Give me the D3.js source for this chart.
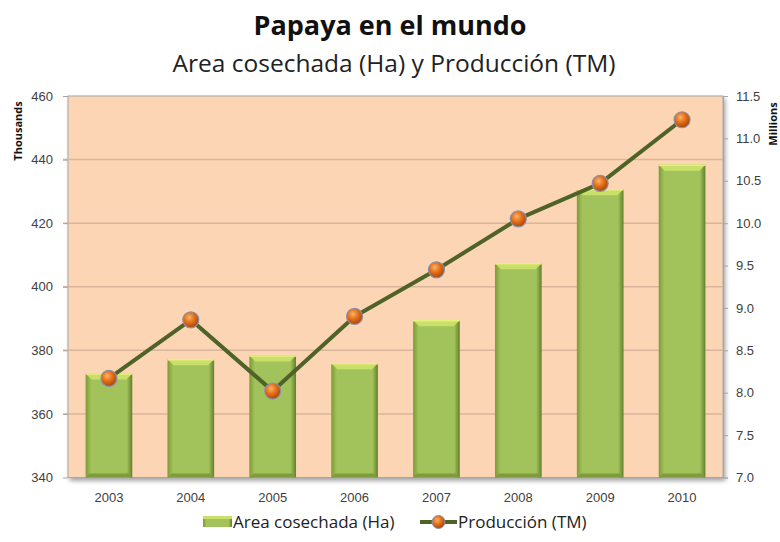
<!DOCTYPE html>
<html>
<head>
<meta charset="utf-8">
<script src="https://cdn.jsdelivr.net/npm/d3@7"></script>
<style>
  body { margin: 0; background: #fff; }
  svg { font-family: "Open Sans", "Noto Sans", sans-serif; }
  .tick text { fill: #404040; font-size: 13px; }
</style>
</head>
<body>
<svg id="chart" width="780" height="542"></svg>
<script>
// data
var years = ['2003','2004','2005','2006','2007','2008','2009','2010'];
var area = [372.7, 377.2, 378.4, 375.9, 389.5, 407.4, 430.7, 438.4];   // thousands Ha
var produccion = [8.17, 8.86, 8.02, 8.90, 9.45, 10.05, 10.47, 11.22]; // millions TM
var leftTicks = [340, 360, 380, 400, 420, 440, 460];
var rightTicks = [7.0, 7.5, 8.0, 8.5, 9.0, 9.5, 10.0, 10.5, 11.0, 11.5];

var svg = d3.select('#chart');
var m = {left: 68, top: 96, right: 723, bottom: 477.5};
var W = m.right - m.left, H = m.bottom - m.top;

var defs = svg.append('defs');
var bg = defs.append('linearGradient').attr('id', 'barg');
bg.append('stop').attr('offset', '0%').attr('stop-color', '#7d9b35');
bg.append('stop').attr('offset', '12%').attr('stop-color', '#a2c35c');
bg.append('stop').attr('offset', '88%').attr('stop-color', '#a2c35c');
bg.append('stop').attr('offset', '100%').attr('stop-color', '#62802a');
var rg = defs.append('radialGradient').attr('id', 'dot').attr('cx', '40%').attr('cy', '35%').attr('r', '65%');
rg.append('stop').attr('offset', '0%').attr('stop-color', '#fbb36a');
rg.append('stop').attr('offset', '50%').attr('stop-color', '#e56f17');
rg.append('stop').attr('offset', '100%').attr('stop-color', '#a9470a');
var sh = defs.append('filter').attr('id', 'shadow').attr('x', '-5%').attr('y', '-5%').attr('width', '110%').attr('height', '110%');
sh.append('feDropShadow').attr('dx', 2).attr('dy', 3).attr('stdDeviation', 2).attr('flood-color', '#000').attr('flood-opacity', 0.35);

// titles
svg.append('text').attr('x', 390).attr('y', 35).attr('text-anchor', 'middle')
  .style('font-size', '27px').style('font-weight', 'bold').style('fill', '#111').text('Papaya en el mundo');
svg.append('text').attr('x', 394).attr('y', 72).attr('text-anchor', 'middle')
  .style('font-size', '24.5px').style('fill', '#222').text('Area cosechada (Ha) y Producción (TM)');

var x = d3.scaleBand().domain(years).range([m.left, m.right]).paddingInner(0.43).paddingOuter(0.215);
var y = d3.scaleLinear().domain([340, 460]).range([m.bottom, m.top]);
var y2 = d3.scaleLinear().domain([7, 11.5]).range([m.bottom, m.top]);

// plot area
svg.append('rect').attr('x', m.left).attr('y', m.top).attr('width', W).attr('height', H)
  .attr('fill', '#fcd5b5').attr('stroke', '#a6a6a6').attr('stroke-width', 1).attr('filter', 'url(#shadow)');

svg.append('g').selectAll('line').data(leftTicks.slice(1, -1)).enter().append('line')
  .attr('x1', m.left - 5).attr('x2', m.right).attr('y1', function(d){ return y(d); }).attr('y2', function(d){ return y(d); })
  .attr('stroke', '#d9b59b').attr('stroke-width', 1.5);

// axes
var gl = svg.append('g').attr('transform', 'translate(' + m.left + ',0)')
  .call(d3.axisLeft(y).tickValues(leftTicks).tickSize(5).tickPadding(10));
gl.select('.domain').remove();
gl.selectAll('.tick line').attr('stroke', '#a6a6a6');

var gr = svg.append('g').attr('transform', 'translate(' + m.right + ',0)')
  .call(d3.axisRight(y2).tickValues(rightTicks).tickFormat(d3.format('.1f')).tickSize(5).tickPadding(8));
gr.select('.domain').attr('stroke', '#a6a6a6');
gr.selectAll('.tick line').attr('stroke', '#a6a6a6');

var gx = svg.append('g').attr('transform', 'translate(0,' + m.bottom + ')')
  .call(d3.axisBottom(x).tickSize(0).tickPadding(15));
gx.select('.domain').remove();

svg.append('text').attr('transform', 'translate(22,131) rotate(-90)').attr('text-anchor', 'middle')
  .style('font-size', '11px').style('font-weight', 'bold').style('fill', '#111').text('Thousands');
svg.append('text').attr('transform', 'translate(777,124) rotate(-90)').attr('text-anchor', 'middle')
  .style('font-size', '11px').style('font-weight', 'bold').style('fill', '#111').text('Millions');

// bars with bevel
var bars = svg.append('g').selectAll('g').data(area).enter().append('g');
bars.append('rect')
  .attr('x', function(d, i){ return x(years[i]); })
  .attr('y', function(d){ return y(d); })
  .attr('width', x.bandwidth())
  .attr('height', function(d){ return m.bottom - y(d); })
  .attr('fill', 'url(#barg)');
bars.append('path').attr('fill', '#c8df6a').attr('d', function(d, i){
  var x0 = x(years[i]), x1 = x0 + x.bandwidth(), t = y(d), b = 6;
  return 'M' + x0 + ',' + t + 'L' + x1 + ',' + t + 'L' + (x1 - b) + ',' + (t + b) + 'L' + (x0 + b) + ',' + (t + b) + 'Z';
});
bars.append('line')
  .attr('x1', function(d, i){ return x(years[i]); }).attr('x2', function(d, i){ return x(years[i]) + x.bandwidth(); })
  .attr('y1', function(d){ return y(d) + 0.5; }).attr('y2', function(d){ return y(d) + 0.5; })
  .attr('stroke', '#e6f07a').attr('stroke-width', 1.5);
bars.append('path').attr('fill', '#7f9c3a').attr('d', function(d, i){
  var x0 = x(years[i]), x1 = x0 + x.bandwidth(), b = m.bottom, s = 4;
  return 'M' + x0 + ',' + b + 'L' + x1 + ',' + b + 'L' + (x1 - s) + ',' + (b - s) + 'L' + (x0 + s) + ',' + (b - s) + 'Z';
});

// production line
var cx = function(i){ return x(years[i]) + x.bandwidth() / 2; };
svg.append('path').datum(produccion)
  .attr('d', d3.line().x(function(d, i){ return cx(i); }).y(function(d){ return y2(d); }))
  .attr('fill', 'none').attr('stroke', '#4f6228').attr('stroke-width', 4).attr('stroke-linejoin', 'round');
svg.append('g').selectAll('circle').data(produccion).enter().append('circle')
  .attr('cx', function(d, i){ return cx(i); }).attr('cy', function(d){ return y2(d); }).attr('r', 8)
  .attr('fill', 'url(#dot)').attr('stroke', '#8e8ea8').attr('stroke-width', 1.2);

// legend
var lg = svg.append('g').attr('transform', 'translate(0,522)');
lg.append('rect').attr('x', 203).attr('y', -6).attr('width', 29).attr('height', 11).attr('fill', 'url(#barg)');
lg.append('rect').attr('x', 203).attr('y', -6).attr('width', 29).attr('height', 3).attr('fill', '#c8df6a');
lg.append('text').attr('x', 233).attr('y', 6).style('font-size', '17px').style('fill', '#222').text('Area cosechada (Ha)');
lg.append('line').attr('x1', 420).attr('x2', 457).attr('y1', 0).attr('y2', 0).attr('stroke', '#4f6228').attr('stroke-width', 4);
lg.append('circle').attr('cx', 438.5).attr('cy', 0).attr('r', 6.5).attr('fill', 'url(#dot)').attr('stroke', '#8e8ea8');
lg.append('text').attr('x', 458).attr('y', 6).style('font-size', '17px').style('fill', '#222').text('Producción (TM)');
</script>
</body>
</html>
